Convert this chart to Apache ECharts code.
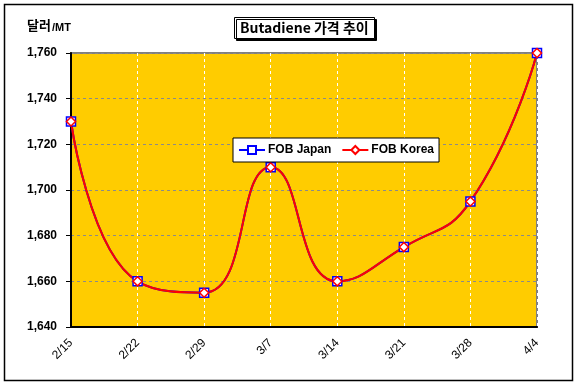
<!DOCTYPE html>
<html><head><meta charset="utf-8">
<script src="https://cdn.jsdelivr.net/npm/echarts@6/dist/echarts.min.js"></script>
<style>html,body{margin:0;padding:0;background:#fff}#c{width:579px;height:386px}</style>
</head><body><div id="c"></div>
<script>
var categories = ['2/15','2/22','2/29','3/7','3/14','3/21','3/28','4/4'];
var fobJapan = [1730,1660,1655,1710,1660,1675,1695,1760];
var fobKorea = [1730,1660,1655,1710,1660,1675,1695,1760];
var yTicks = {min:1640, max:1760, interval:20};

var chart = echarts.init(document.getElementById('c'));
var font = '"Liberation Sans", Arial, sans-serif';
chart.setOption({
  backgroundColor:'#fff',
  animation:false,
  graphic:[
    {type:'rect', shape:{x:4.5,y:4.5,width:568,height:376}, style:{fill:'none',stroke:'#000',lineWidth:1.5}, z:-10},
    {type:'text', left:27, top:19, style:{text:'달러', font:'bold 13px "Noto Sans CJK KR", sans-serif', fill:'#000'}},
    {type:'text', left:52, top:22, style:{text:'/MT', font:'bold 11px '+font, fill:'#000'}}
  ],
  title:{
    text:'Butadiene 가격 추이', left:234, top:17,
    padding:[4,6,4,6],
    borderColor:'#000', borderWidth:1, backgroundColor:'#fff',
    shadowColor:'#000', shadowOffsetX:2, shadowOffsetY:2, shadowBlur:0,
    textStyle:{fontFamily:'"Noto Sans CJK KR", sans-serif', fontSize:14, fontWeight:'bold', color:'#000'}
  },
  legend:{
    left:233, top:138, orient:'horizontal',
    padding:[6,5,6,5], itemGap:10, itemWidth:26, itemHeight:10,
    backgroundColor:'#fff', borderColor:'#000', borderWidth:1,
    textStyle:{fontFamily:font, fontSize:12, fontWeight:'bold', color:'#000', padding:[0,0,0,-2]},
    data:['FOB Japan','FOB Korea']
  },
  grid:{left:71, right:42, top:53, bottom:59, show:true, backgroundColor:'#FFCC00', borderColor:'#808080', borderWidth:2},
  xAxis:{
    type:'category', data:categories, boundaryGap:false,
    axisLine:{lineStyle:{color:'#000', width:2}},
    axisTick:{show:false},
    axisLabel:{rotate:45, margin:14, fontFamily:font, fontSize:12, color:'#000'},
    splitLine:{show:true, lineStyle:{color:'#fff', type:[3,3], width:1}}
  },
  yAxis:{
    type:'value', min:yTicks.min, max:yTicks.max, interval:yTicks.interval,
    axisLine:{show:true, lineStyle:{color:'#000', width:2}},
    axisTick:{show:true, length:5, lineStyle:{color:'#000'}},
    axisLabel:{margin:14, fontFamily:font, fontSize:12, fontWeight:'bold', color:'#000',
      formatter:function(v){return v.toString().replace(/\B(?=(\d{3})+(?!\d))/g, ',');}},
    splitLine:{show:true, lineStyle:{color:'#8a8a8a', type:[3,3], width:1}}
  },
  series:[
    {name:'FOB Japan', type:'line', data:fobJapan, smooth:0.5,
      symbol:'rect', symbolSize:9, showAllSymbol:true,
      lineStyle:{color:'#0000FF', width:2}, itemStyle:{color:'#fff', borderColor:'#0000FF', borderWidth:1.5}},
    {name:'FOB Korea', type:'line', data:fobKorea, smooth:0.5,
      symbol:'diamond', symbolSize:9, showAllSymbol:true,
      lineStyle:{color:'#FF0000', width:2}, itemStyle:{color:'#fff', borderColor:'#FF0000', borderWidth:1.5}}
  ]
});
</script></body></html>
